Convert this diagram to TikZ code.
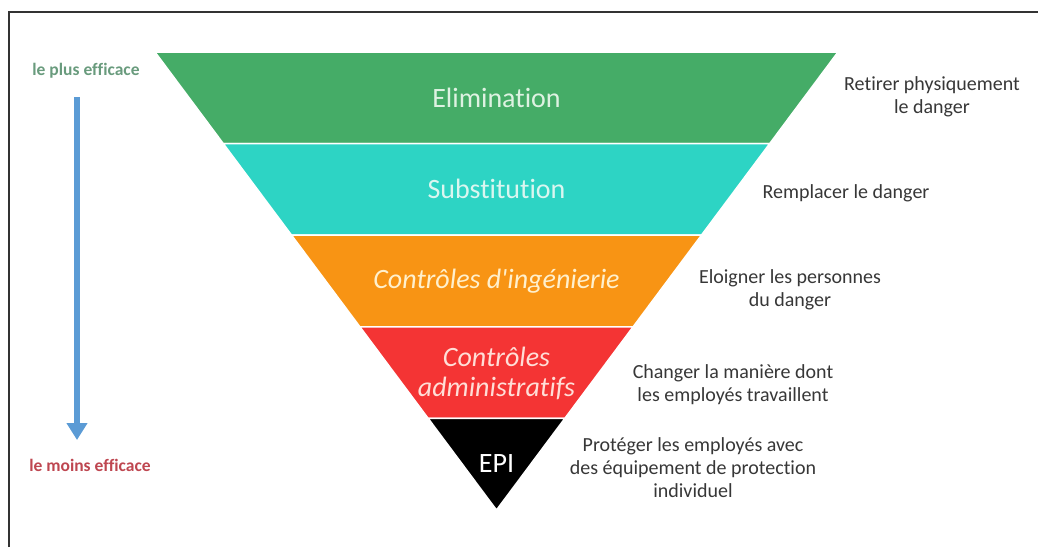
\documentclass[tikz,border=0pt]{standalone}
\usepackage{fontspec}
\setmainfont{Carlito}[Ligatures=NoCommon]
\definecolor{elimgreen}{RGB}{69, 172, 103}
\definecolor{substteal}{RGB}{45, 212, 196}
\definecolor{ingorange}{RGB}{248, 148, 20}
\definecolor{adminred}{RGB}{244, 52, 52}
\definecolor{epiblack}{RGB}{0, 0, 0}
\definecolor{elimtext}{RGB}{222, 242, 226}
\definecolor{substtext}{RGB}{218, 246, 240}
\definecolor{ingtext}{RGB}{255, 240, 205}
\definecolor{admintext}{RGB}{255, 222, 215}
\definecolor{notegray}{RGB}{55, 55, 55}
\definecolor{plusgreen}{RGB}{105, 155, 125}
\definecolor{moinsred}{RGB}{190, 70, 80}
\definecolor{arrowblue}{RGB}{91, 155, 213}
\usetikzlibrary{arrows.meta, positioning, calc}
\tikzset{
  band/.style={fill=#1, draw=white, line width=1.5pt},
  bandtext/.style={text=#1, font=\fontsize{28}{30}\selectfont, align=center},
  bandital/.style={text=#1, font=\fontsize{28}{30}\selectfont\itshape, align=center},
  sidenote/.style={text=notegray, font=\fontsize{20}{23}\selectfont, align=center},
  efflabel/.style={text=#1, font=\fontsize{17.5}{20}\selectfont\bfseries},
  effarrow/.style={draw=arrowblue, line width=6pt, -{Triangle[width=20pt, length=17pt]}},
}
\begin{document}
\begin{tikzpicture}[x=1pt, y=-1pt]
\useasboundingbox (0,0) rectangle (1038,547);
\draw[black!80, line width=1.5pt] (9,547) -- (9,12) -- (1038,12);
\coordinate (tl) at (155,52);
\coordinate (tr) at (838,52);
\coordinate (apex) at (496.5,510);
\foreach \col [count=\i] in {elimgreen, substteal, ingorange, adminred, epiblack} {
  \pgfmathsetmacro{\ta}{(\i-1)/5}
  \pgfmathsetmacro{\tb}{\i/5}
  \filldraw[band=\col] ($(tl)!\ta!(apex)$) -- ($(tr)!\ta!(apex)$)
    -- ($(tr)!\tb!(apex)$) -- ($(tl)!\tb!(apex)$) -- cycle;
}
\node[bandtext=elimtext] (elim) at (496.5,98) {Elimination};
\node[bandtext=substtext] (subst) at (496.5,189) {Substitution};
\node[bandital=ingtext] (ing) at (496.5,281) {Contrôles d\textquotesingle ingénierie};
\node[bandital=admintext] (admin) at (496.5,373) {Contrôles\\administratifs};
\node[bandtext=white] (epi) at (496.5,464) {EPI};

\node[sidenote] (retirer) at (932,97) {Retirer physiquement\\le danger};
\node[sidenote] (remplacer) at (846,193) {Remplacer le danger};
\node[sidenote] (eloigner) at (790,290) {Eloigner les personnes\\du danger};
\node[sidenote] (changer) at (733,385) {Changer la manière dont\\les employés travaillent};
\node[sidenote] (proteger) at (693,468) {Protéger les employés avec\\des équipement de protection\\individuel};

\node[efflabel=plusgreen] (plus) at (86,71) {le plus efficace};
\node[efflabel=moinsred] (moins) at (90,465) {le moins efficace};
\coordinate (atop) at (77,97);
\coordinate (abot) at (77,440);
\draw[effarrow] (atop) -- (abot);
\end{tikzpicture}
\end{document}
